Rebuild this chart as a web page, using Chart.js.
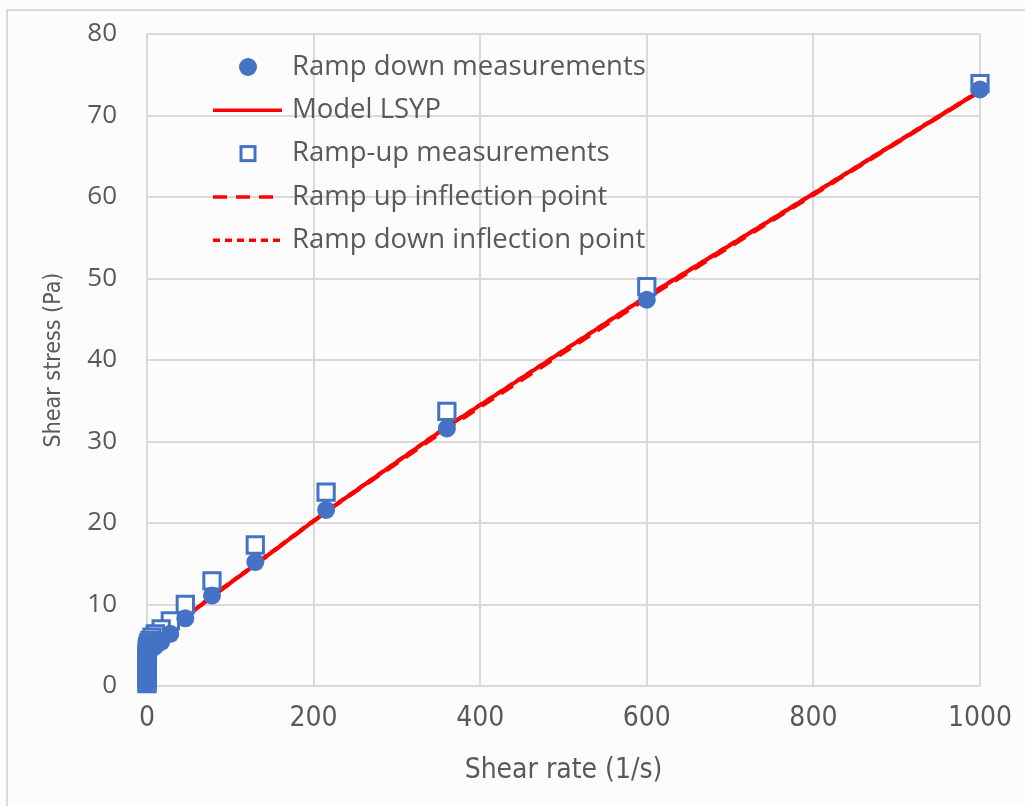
<!DOCTYPE html>
<html>
<head>
<meta charset="utf-8">
<script src="https://cdn.jsdelivr.net/npm/chart.js@4.4.1/dist/chart.umd.min.js"></script>
<style>
  html, body { margin: 0; padding: 0; background: #fcfcfc; }
</style>
</head>
<body>
<canvas id="chart" width="1025" height="806"></canvas>
<script>
// shear rates of the log ramp (1/s), same for up and down
const shearRate = [1000, 600, 360, 215, 130, 78, 46, 28, 17, 10, 6, 3.6, 2.2, 1.3, 0.78, 0.46, 0.28, 0.17, 0.1, 0.06, 0.036, 0.022, 0.013, 0.0078, 0.0046, 0.0028, 0.0017, 0.001];
const rampDown = [73.2, 47.4, 31.6, 21.6, 15.2, 11.1, 8.3, 6.4, 5.4, 4.9, 4.6, 4.4, 4.3, 4.2, 4.1, 4.0, 3.8, 3.6, 3.3, 3.0, 2.6, 2.2, 1.8, 1.4, 1.1, 0.8, 0.5, 0.3];
const rampUp = [73.9, 49.0, 33.7, 23.8, 17.3, 12.9, 10.0, 8.0, 7.0, 6.4, 6.0, 5.6, 5.3, 5.0, 4.8, 4.6, 4.4, 4.1, 3.8, 3.4, 3.0, 2.5, 2.0, 1.6, 1.2, 0.9, 0.6, 0.3];
const modelLSYP = [73.0, 47.8, 31.8, 21.4, 14.9, 11.0, 8.4, 6.6, 5.5, 4.9, 4.6, 4.4, 4.3, 4.2, 4.1, 4.0, 3.8, 3.6, 3.3, 3.0, 2.6, 2.2, 1.8, 1.4, 1.1, 0.8, 0.5, 0.3];
const inflRate = [1000, 600, 360, 215, 130, 78, 46, 28];
const upInflection = [72.9, 47.5, 31.5, 21.3, 14.8, 10.9, 8.3, 6.5];
const downInflection = [73.1, 47.9, 31.9, 21.5, 15.0, 11.1, 8.5, 6.7];
const xTicks = [0, 200, 400, 600, 800, 1000];
const yTicks = [0, 10, 20, 30, 40, 50, 60, 70, 80];

const blue = '#4472C4';
const red = '#FF0000';
const grey = '#595959';
const gridCol = '#d9d9d9';

function pts(xs, ys) {
    return xs.map((x, i) => ({ x: x, y: ys[i] }));
}

// page frame + background
const framePlugin = {
    id: 'frame',
    beforeDraw(chart) {
        const ctx = chart.ctx;
        ctx.save();
        ctx.fillStyle = '#fcfcfc';
        ctx.fillRect(0, 0, chart.width, chart.height);
        ctx.strokeStyle = '#d9d9d9';
        ctx.lineWidth = 2;
        ctx.beginPath();
        ctx.moveTo(7, chart.height);
        ctx.lineTo(7, 10);
        ctx.lineTo(chart.width, 10);
        ctx.stroke();
        ctx.restore();
    }
};

// legend sits inside the plot, top left
const legendOrder = [1, 0, 2, 3, 4];
const legendPlugin = {
    id: 'insideLegend',
    afterDatasetsDraw(chart) {
        const ctx = chart.ctx;
        const left = chart.chartArea.left;
        const top = chart.chartArea.top;
        ctx.save();
        ctx.font = '27.5px "Open Sans", sans-serif';
        ctx.textBaseline = 'middle';
        legendOrder.forEach((idx, i) => {
            const ds = chart.data.datasets[idx];
            const cy = top + 33 + i * 43.3;
            const cx = left + 101;
            if (ds.showLine === false) {
                ctx.fillStyle = ds.backgroundColor;
                ctx.strokeStyle = ds.borderColor;
                ctx.lineWidth = ds.borderWidth;
                ctx.setLineDash([]);
                if (ds.pointStyle === 'rect') {
                    ctx.fillRect(cx - 7, cy - 7, 14, 14);
                    ctx.strokeRect(cx - 7, cy - 7, 14, 14);
                } else {
                    ctx.beginPath();
                    ctx.arc(cx, cy, 9, 0, Math.PI * 2);
                    ctx.fill();
                }
            } else {
                ctx.strokeStyle = ds.borderColor;
                ctx.lineWidth = 3.5;
                ctx.setLineDash(ds.borderDash || []);
                ctx.beginPath();
                ctx.moveTo(left + 66, cy);
                ctx.lineTo(left + 135, cy);
                ctx.stroke();
            }
            ctx.setLineDash([]);
            ctx.fillStyle = grey;
            ctx.fillText(ds.label, left + 145, cy);
        });
        ctx.restore();
    }
};

const ctx = document.getElementById('chart').getContext('2d');
new Chart(ctx, {
    type: 'scatter',
    data: {
        datasets: [
            {
                label: 'Model LSYP',
                data: pts(shearRate, modelLSYP),
                showLine: true,
                borderColor: red,
                borderWidth: 4,
                pointRadius: 0,
                order: 4
            },
            {
                label: 'Ramp down measurements',
                data: pts(shearRate, rampDown),
                showLine: false,
                pointStyle: 'circle',
                pointRadius: 9,
                backgroundColor: blue,
                borderColor: blue,
                borderWidth: 0,
                clip: false,
                order: 0
            },
            {
                label: 'Ramp-up measurements',
                data: pts(shearRate, rampUp),
                showLine: false,
                pointStyle: 'rect',
                pointRadius: 11.5,
                backgroundColor: '#ffffff',
                borderColor: blue,
                borderWidth: 3,
                clip: false,
                order: 1
            },
            {
                label: 'Ramp up inflection point',
                data: pts(inflRate, upInflection),
                showLine: true,
                borderColor: red,
                borderWidth: 3,
                borderDash: [14, 9],
                pointRadius: 0,
                order: 3
            },
            {
                label: 'Ramp down inflection point',
                data: pts(inflRate, downInflection),
                showLine: true,
                borderColor: red,
                borderWidth: 3,
                borderDash: [7, 5],
                pointRadius: 0,
                order: 2
            }
        ]
    },
    options: {
        responsive: false,
        animation: false,
        layout: { padding: { left: 30, right: 45, top: 34, bottom: 0 } },
        plugins: {
            legend: { display: false },
            tooltip: { enabled: false }
        },
        scales: {
            x: {
                type: 'linear',
                min: 0,
                max: 1000,
                afterBuildTicks: s => { s.ticks = xTicks.map(v => ({ value: v })); },
                afterFit: s => { s.height = 120; s.paddingLeft = 0; s.paddingRight = 0; },
                ticks: {
                    color: grey,
                    padding: 16,
                    callback: v => String(v),
                    font: { family: '"Liberation Sans Narrow", "DejaVu Sans Condensed", sans-serif', size: 28 }
                },
                grid: { color: gridCol, lineWidth: 2, drawTicks: false },
                border: { display: false },
                title: {
                    display: true,
                    text: 'Shear rate (1/s)',
                    color: grey,
                    padding: { top: 0, bottom: 18 },
                    font: { family: '"Liberation Sans Narrow", "DejaVu Sans Condensed", sans-serif', size: 28 }
                }
            },
            y: {
                min: 0,
                max: 80,
                afterBuildTicks: s => { s.ticks = yTicks.map(v => ({ value: v })); },
                afterFit: s => { s.width = 117; s.paddingTop = 0; s.paddingBottom = 0; },
                ticks: {
                    color: grey,
                    padding: 30,
                    font: { family: '"Open Sans", sans-serif', size: 26 }
                },
                grid: { color: gridCol, lineWidth: 2, drawTicks: false },
                border: { display: false },
                title: {
                    display: true,
                    text: 'Shear stress (Pa)',
                    color: grey,
                    padding: { top: 10, bottom: 0 },
                    font: { family: '"Liberation Sans Narrow", "DejaVu Sans Condensed", sans-serif', size: 23 }
                }
            }
        }
    },
    plugins: [framePlugin, legendPlugin]
});
</script>
</body>
</html>
